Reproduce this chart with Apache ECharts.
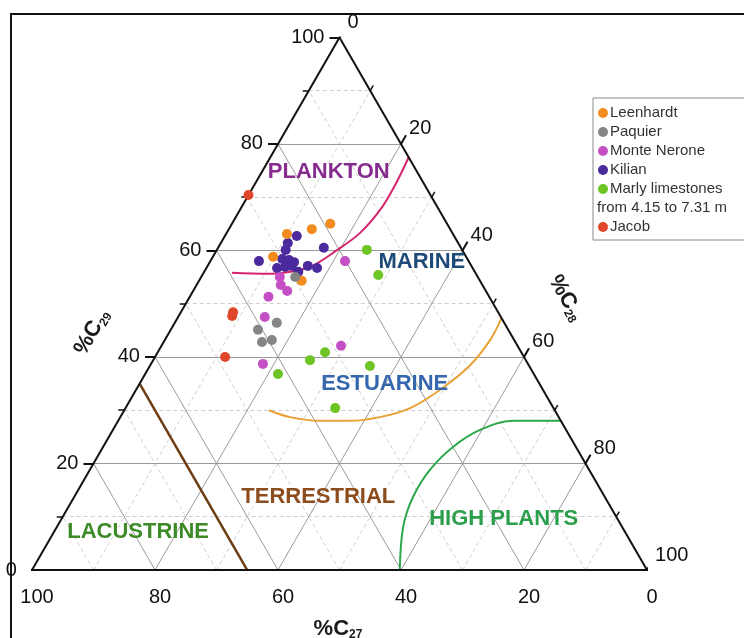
<!DOCTYPE html>
<html><head><meta charset="utf-8">
<script src="https://cdn.jsdelivr.net/npm/echarts@6/dist/echarts.min.js"></script>
<style>html,body{margin:0;padding:0;background:#fff}#c{width:744px;height:638px}</style>
</head><body><div id="c"></div>
<script>
// ---------- DATA (ternary compositions: [C27, C28, C29] in %) ----------
const axisTicks = [0, 20, 40, 60, 80, 100];
const minorTicks = [10, 30, 50, 70, 90];
const groupNames = ['Leenhardt', 'Paquier', 'Monte Nerone', 'Kilian', 'Marly limestones', 'Jacob'];
const marlyNote = 'from 4.15 to 7.31 m';

const leenhardt = [[19.0,16.0,65.0],[22.5,13.5,64.0],[27.0,9.9,63.1],[31.4,9.8,58.8],[29.0,16.7,54.3]];
const paquier = [[29.7,15.3,55.0],[40.7,14.2,45.1],[37.0,16.6,46.4],[41.2,16.0,42.8],[39.4,17.4,43.2]];
const monteNerone = [[20.1,21.9,58.0],[32.2,12.8,55.0],[32.8,13.7,53.5],[32.3,15.3,52.4],[35.9,12.8,51.3],[38.4,14.1,47.5],[28.7,29.2,42.1],[43.1,18.2,38.7]];
const kilian = [[25.6,11.7,62.7],[27.7,10.9,61.4],[28.7,11.2,60.1],[22.3,17.2,60.5],[34.1,7.9,58.0],[30.1,11.5,58.4],[29.1,12.7,58.2],[29.2,13.7,57.1],[31.8,11.5,56.7],[26.6,16.3,57.1],[25.3,18.0,56.7],[28.7,15.3,56.0],[30.4,12.7,56.9],[28.5,13.7,57.8]];
const marly = [[15.5,24.4,60.1],[16.0,28.6,55.4],[31.9,27.2,40.9],[35.1,25.5,39.4],[25.9,35.8,38.3],[41.6,21.6,36.8],[35.5,34.1,30.4]];
const jacob = [[29.6,0.0,70.4],[43.1,8.5,48.4],[43.6,8.7,47.7],[48.6,11.4,40.0]];

const planktonCurve = [[39.6,4.6,55.8],[34.0,10.4,55.6],[30.0,14.0,56.0],[26.3,16.8,56.9],[20.3,19.6,60.1],[15.0,21.7,63.3],[9.6,22.8,67.6],[4.8,22.9,72.3],[0,22.5,77.5]];
const estuarineCurve = [[46.5,23.5,30.0],[43.7,27.6,28.7],[39.2,32.8,28.0],[34.3,37.7,28.0],[29.1,42.2,28.7],[23.3,46.3,30.4],[16.8,49.4,33.8],[9.6,52.0,38.4],[3.9,52.9,43.2],[0,52.7,47.3]];
const highPlantsCurve = [[40.2,59.8,0],[35.6,56.3,8.1],[31.2,55.1,13.7],[25.9,55.3,18.8],[20.0,56.9,23.1],[14.0,59.7,26.3],[7.8,64.2,28.0],[0,72.0,28.0]];
const terrestrialLine = [[65,0,35],[65,35,0]];

const regionNames = ['PLANKTON', 'MARINE', 'ESTUARINE', 'TERRESTRIAL', 'LACUSTRINE', 'HIGH PLANTS'];

// ---------- LAYOUT / STYLE ----------
const regionAnchor = [[14.4,10.9,74.7],[7.7,34.5,57.8],[25.2,39.9,34.9],[46.6,39.7,13.7],[79.2,13.7,7.1],[18.5,71.9,9.6]];
const regionColors = ['#872c8e', '#1d4a78', '#3467ad', '#8d4c1c', '#3d8b28', '#2b9f4c'];
const groupColors = ['#f28c1e', '#858585', '#c54fc4', '#4a2a9c', '#6dc424', '#e0462a'];
const FONT = '"Liberation Sans", Arial, sans-serif';

const H = Math.sqrt(3) / 2;
const SIDE = 615;
const u = 1 / SIDE;
function T(p) { return [p[1] / 100 + p[2] / 200, p[2] / 100 * H]; }

function famLines(vals) {
  const out = [];
  vals.forEach(v => {
    if (v <= 0 || v >= 100) return;
    out.push({ coords: [T([100 - v, 0, v]), T([0, 100 - v, v])] });
    out.push({ coords: [T([100 - v, v, 0]), T([0, v, 100 - v])] });
    out.push({ coords: [T([v, 100 - v, 0]), T([v, 0, 100 - v])] });
  });
  return out;
}
function tickSegs(vals, len) {
  const s = [];
  vals.forEach(v => {
    const l = T([100 - v, 0, v]); s.push({ coords: [l, [l[0] - len * u, l[1]]] });
    const b = T([v, 100 - v, 0]); s.push({ coords: [b, [b[0] + 0.5 * len * u, b[1] - H * len * u]] });
    const r = T([0, v, 100 - v]); s.push({ coords: [r, [r[0] + 0.5 * len * u, r[1] + H * len * u]] });
  });
  return s;
}

const groups = [kilian, monteNerone, leenhardt, paquier, marly, jacob];
const groupIdx = [3, 2, 0, 1, 4, 5];

const series = [];
series.push({ type: 'lines', coordinateSystem: 'cartesian2d', silent: true, z: 1,
  data: famLines(minorTicks), lineStyle: { color: '#cfcfcf', width: 1, type: [4, 3], opacity: 1 } });
series.push({ type: 'lines', coordinateSystem: 'cartesian2d', silent: true, z: 1,
  data: famLines(axisTicks), lineStyle: { color: '#9a9a9a', width: 1, opacity: 1 } });

function curve(pts, color, w) {
  return { type: 'line', data: pts.map(T), smooth: 0.35, symbol: 'none', silent: true, z: 3,
    lineStyle: { color: color, width: w }, animation: false };
}
series.push(curve(planktonCurve, '#d6246e', 2));
series.push(curve(estuarineCurve, '#e9a235', 2));
series.push(curve(highPlantsCurve, '#2aa84a', 2));
series.push({ type: 'line', data: terrestrialLine.map(T), symbol: 'none', silent: true, z: 3,
  lineStyle: { color: '#6e3d14', width: 2.5 } });

series.push({ type: 'lines', coordinateSystem: 'cartesian2d', silent: true, z: 4,
  data: [{ coords: [T([100,0,0]), T([0,100,0])] }, { coords: [T([0,100,0]), T([0,0,100])] }, { coords: [T([0,0,100]), T([100,0,0])] }],
  lineStyle: { color: '#111', width: 2, opacity: 1 } });
series.push({ type: 'lines', coordinateSystem: 'cartesian2d', silent: true, z: 4,
  data: tickSegs(axisTicks, 10), lineStyle: { color: '#111', width: 2, opacity: 1 } });
series.push({ type: 'lines', coordinateSystem: 'cartesian2d', silent: true, z: 4,
  data: tickSegs(minorTicks, 6), lineStyle: { color: '#111', width: 1.5, opacity: 1 } });

groups.forEach((g, k) => {
  const i = groupIdx[k];
  series.push({ type: 'scatter', name: groupNames[i], data: g.map(T), symbolSize: 10, z: 5, silent: true,
    itemStyle: { color: groupColors[i], opacity: 1 } });
});

function labelSeries(data, label) {
  return { type: 'scatter', data: data, symbolSize: 0.01, z: 6, silent: true,
    itemStyle: { color: '#ffffff', opacity: 1 },
    label: Object.assign({ show: true, opacity: 1, formatter: p => p.value[2], color: '#111', fontSize: 20, fontFamily: FONT }, label) };
}
series.push(labelSeries(axisTicks.map(v => [...T([100 - v, 0, v]), v]), { position: 'left', distance: 15 }));
series.push(labelSeries(axisTicks.map(v => [...T([v, 100 - v, 0]), v]), { position: 'bottom', distance: 17, offset: [5, 0] }));
series.push(labelSeries(axisTicks.map(v => [...T([0, v, 100 - v]), v]), { position: 'right', distance: 8, offset: [0, -15] }));

regionNames.forEach((n, i) => {
  series.push(labelSeries([[...T(regionAnchor[i]), n]], { position: 'inside', fontSize: 22, fontWeight: 'bold', color: regionColors[i] }));
});

// legend (graphic)
const legendEls = [{ type: 'rect', shape: { x: 593, y: 98, width: 180, height: 142 },
  style: { fill: '#fff', stroke: '#8a8a8a', lineWidth: 1 } }];
let row = 0;
groupNames.forEach((n, i) => {
  const y = 113 + 19 * row;
  legendEls.push({ type: 'circle', shape: { cx: 603, cy: y, r: 5 }, style: { fill: groupColors[i] } });
  legendEls.push({ type: 'text', x: 610, y: y, style: { text: n, fontSize: 15, fontFamily: FONT, fill: '#333', verticalAlign: 'middle' } });
  row++;
  if (i === 4) {
    legendEls.push({ type: 'text', x: 597, y: 113 + 19 * row, style: { text: marlyNote, fontSize: 15, fontFamily: FONT, fill: '#333', verticalAlign: 'middle' } });
    row++;
  }
});

function axisTitle(sub, x, y, rot) {
  return { type: 'text', x: x, y: y, rotation: rot, z: 10,
    style: { text: '{a|%C}{b|' + sub + '}', align: 'center', verticalAlign: 'middle',
      rich: { a: { fontSize: 22, fontWeight: 'bold', fontFamily: FONT, fill: '#1a1a1a', lineHeight: 24 },
              b: { fontSize: 12, fontWeight: 'bold', fontFamily: FONT, fill: '#1a1a1a', verticalAlign: 'bottom', lineHeight: 18 } } } };
}

const chart = echarts.init(document.getElementById('c'), null, { renderer: 'canvas' });
chart.setOption({
  animation: false,
  backgroundColor: '#ffffff',
  grid: { left: 32, right: 97, top: 37.4, bottom: 68 },
  xAxis: { type: 'value', min: 0, max: 1, show: false },
  yAxis: { type: 'value', min: 0, max: H, show: false },
  series: series,
  graphic: [
    { type: 'rect', shape: { x: 11, y: 14, width: 800, height: 700 }, style: { fill: 'none', stroke: '#111', lineWidth: 2 }, z: 0 },
    { type: 'group', children: legendEls, z: 10 },
    axisTitle('27', 338, 629, 0),
    axisTitle('29', 92, 332, Math.PI / 3),
    axisTitle('28', 566, 298, -Math.PI / 3)
  ]
});
</script></body></html>
